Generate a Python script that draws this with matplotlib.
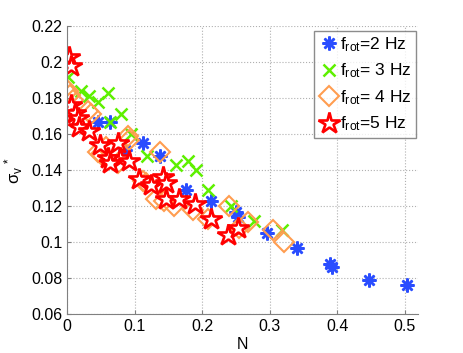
import numpy as np
import matplotlib
matplotlib.use('Agg')
import matplotlib.pyplot as plt

plt.rcParams['font.family'] = ['Liberation Sans', 'DejaVu Sans']
plt.rcParams['mathtext.fontset'] = 'custom'
plt.rcParams['mathtext.rm'] = 'Liberation Sans'
plt.rcParams['mathtext.it'] = 'Liberation Sans'

# f_rot = 2 Hz
n_2hz = [0.045, 0.063, 0.085, 0.112, 0.137, 0.176, 0.213, 0.250, 0.253, 0.296,
         0.340, 0.389, 0.393, 0.448, 0.504]
s_2hz = [0.167, 0.167, 0.151, 0.155, 0.148, 0.129, 0.123, 0.117, 0.114, 0.105,
         0.097, 0.088, 0.086, 0.079, 0.076]

# f_rot = 3 Hz
n_3hz = [0.001, 0.021, 0.033, 0.045, 0.060, 0.063, 0.080, 0.095, 0.119, 0.161,
         0.179, 0.191, 0.208, 0.243, 0.277, 0.319]
s_3hz = [0.192, 0.184, 0.181, 0.178, 0.183, 0.167, 0.171, 0.160, 0.148, 0.143,
         0.145, 0.140, 0.129, 0.120, 0.112, 0.107]

# f_rot = 4 Hz
n_4hz = [0.001, 0.004, 0.008, 0.031, 0.036, 0.045, 0.050, 0.058, 0.075, 0.090,
         0.092, 0.112, 0.117, 0.132, 0.137, 0.144, 0.159, 0.186, 0.208, 0.240,
         0.255, 0.268, 0.305, 0.321]
s_4hz = [0.184, 0.182, 0.179, 0.173, 0.171, 0.150, 0.149, 0.153, 0.144, 0.159,
         0.157, 0.134, 0.133, 0.124, 0.150, 0.123, 0.120, 0.118, 0.113, 0.120,
         0.108, 0.111, 0.107, 0.100]

# f_rot = 5 Hz
n_5hz = [0.003, 0.006, 0.006, 0.011, 0.016, 0.018, 0.033, 0.048, 0.075, 0.078,
         0.060, 0.063, 0.092, 0.107, 0.124, 0.142, 0.147, 0.147, 0.166, 0.189,
         0.213, 0.238, 0.253]
s_5hz = [0.203, 0.198, 0.176, 0.172, 0.169, 0.164, 0.162, 0.154, 0.155, 0.147,
         0.147, 0.144, 0.145, 0.135, 0.132, 0.136, 0.133, 0.124, 0.124, 0.121,
         0.113, 0.104, 0.108]

fig = plt.figure(figsize=(4.63, 3.53), dpi=100)
ax = fig.add_axes([0.145, 0.11, 0.758, 0.816])

ax.plot(n_2hz, s_2hz, ls='none', marker=(8, 2, 0), ms=10, mew=1.8,
        color='#2a4dff', label=r'f$_{\rm rot}$=2 Hz')
ax.plot(n_3hz, s_3hz, ls='none', marker='x', ms=9, mew=1.8,
        color='#5ef000', label=r'f$_{\rm rot}$= 3 Hz')
ax.plot(n_4hz, s_4hz, ls='none', marker='D', ms=10, mew=1.5, mfc='none',
        color='#ff9d50', label=r'f$_{\rm rot}$= 4 Hz')
ax.plot(n_5hz, s_5hz, ls='none', marker='*', ms=16, mew=1.9, mfc='white',
        mec='#ff0000', color='#ff0000', label=r'f$_{\rm rot}$=5 Hz')

ax.set_xlim(0, 0.52)
ax.set_ylim(0.06, 0.22)
ax.set_xticks([0, 0.1, 0.2, 0.3, 0.4, 0.5])
ax.set_xticklabels(['0', '0.1', '0.2', '0.3', '0.4', '0.5'])
ax.set_yticks(np.arange(0.06, 0.2201, 0.02))
ax.set_yticklabels(['0.06', '0.08', '0.1', '0.12', '0.14', '0.16', '0.18', '0.2', '0.22'])
ax.tick_params(direction='in', labelsize=11.5, color='#808080', length=3)
ax.grid(True, ls=':', color='#b0b0b0', lw=0.8)
ax.set_axisbelow(True)
for s in ['top', 'right']:
    ax.spines[s].set_visible(False)
for s in ['left', 'bottom']:
    ax.spines[s].set_color('#808080')

ax.set_xlabel('N', fontsize=11.5, labelpad=2)
ax.set_ylabel(r'$\sigma_v\,^*$', fontsize=12, labelpad=4)

leg = ax.legend(loc='upper right', bbox_to_anchor=(1.0, 0.99), fontsize=12.5,
                frameon=True, fancybox=False, handletextpad=0.0,
                handlelength=1.3, borderpad=0.25, labelspacing=0.45, borderaxespad=0.1)
leg.get_frame().set_edgecolor('#707070')
leg.get_frame().set_linewidth(1.0)

fig.savefig('out.png', dpi=100)
